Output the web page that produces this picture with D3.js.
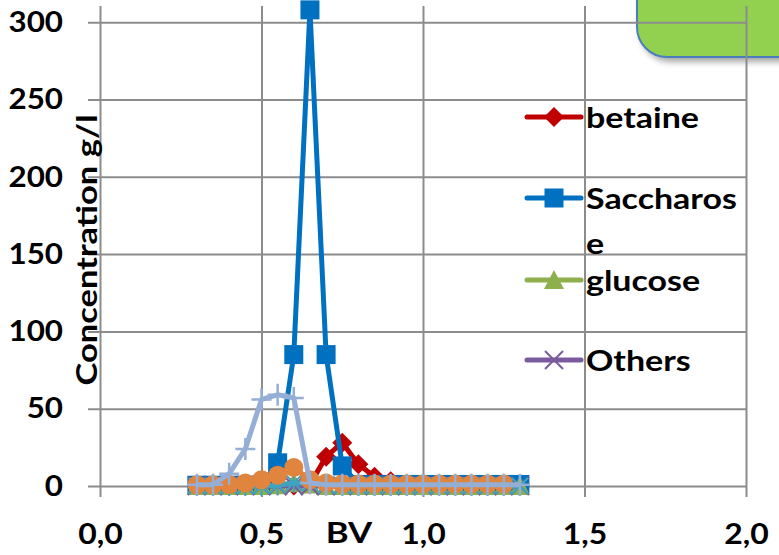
<!DOCTYPE html>
<html>
<head>
<meta charset="utf-8">
<script src="https://cdn.jsdelivr.net/npm/d3@7"></script>
<style>
  body { margin: 0; background: #fff; }
  svg { display: block; }
  text { font-family: "Lato", "Open Sans", sans-serif; font-weight: 700; fill: #000; }
</style>
</head>
<body>
<svg id="chart" width="779" height="555"></svg>
<script>
// bed volumes (x) and concentrations in g/l
var bv = [0.30, 0.35, 0.40, 0.45, 0.50, 0.55, 0.60, 0.65, 0.70, 0.75, 0.80,
          0.85, 0.90, 0.95, 1.00, 1.05, 1.10, 1.15, 1.20, 1.25, 1.30];
var betaine    = [0.3, 0.3, 0.3, 0.3, 0.3, 0.3, 0.3, 1, 19, 28, 14, 6, 3, 1.5, 0.8, 0.8, 0.8, 0.8, 0.8, 0.8, 0.8];
var saccharose = [0.5, 0.5, 0.5, 0.5, 0.5, 15, 85, 308, 85, 13, 1, 1, 1, 1, 1, 1, 1, 1, 1, 1, 1];
var glucose    = [0, 0, 0, 0, 0, 0.5, 2, 1, 0, 0, 0, 0, 0, 0, 0, 0, 0, 0, 0, 0, 0];
var others     = [0, 0, 0, 0, 0, 0, 0, 0, 0, 0, 0, 0, 0, 0, 0, 0, 0, 0, 0, 0, 0];
var fructose   = [0, 0, 0, 0, 0, 0.5, 2, 2, 0.5, 0, 0, 0, 0, 0, 0, 0, 0, 0, 0, 0, 0];
var salts      = [0.8, 0.8, 1, 2, 4, 7, 12, 4, 2, 1.3, 1.3, 1.3, 1.3, 1.3, 1.3, 1.3, 1.3, 1.3, 1.3, 1.3];
var color_body = [0.8, 0.8, 8, 24, 56, 59, 57, 2, 0.8, 0.8, 0.8, 0.8, 0.8, 0.8, 0.8, 0.8, 0.8, 0.8, 0.8, 0.8, 0.8];

var xTicks = [0, 0.5, 1.0, 1.5, 2.0];
var yTicks = [0, 50, 100, 150, 200, 250, 300];
var legendNames = ["betaine", "Saccharose", "glucose", "Others"];

var series = [
  { name: "betaine", values: betaine, color: "#C00000", marker: "diamond" },
  { name: "Saccharose", values: saccharose, color: "#0070C0", marker: "square" },
  { name: "glucose", values: glucose, color: "#8EB04C", marker: "triangle" },
  { name: "Others", values: others, color: "#7A5C9E", marker: "cross" },
  { name: "fructose", values: fructose, color: "#3FA3C0", marker: "star" },
  { name: "salts", values: salts, color: "#E0843E", marker: "circle" },
  { name: "color", values: color_body, color: "#94AED6", marker: "plus" }
];

var svg = d3.select("#chart");
var x = d3.scaleLinear().domain([0, 2]).range([100, 746]);
var y = d3.scaleLinear().domain([0, 310.5]).range([486, 6]);
var comma = d3.formatLocale({ decimal: ",", thousands: ".", grouping: [3], currency: ["", ""] }).format(".1f");

// green box behind the chart, top right
var defs = svg.append("defs");
var f = defs.append("filter").attr("id", "shadow").attr("x", "-20%").attr("y", "-20%").attr("width", "150%").attr("height", "150%");
f.append("feDropShadow").attr("dx", 4).attr("dy", 4).attr("stdDeviation", 3)
  .attr("flood-color", "#000").attr("flood-opacity", 0.35);
svg.append("rect")
  .attr("x", 637).attr("y", -60).attr("width", 220).attr("height", 117)
  .attr("rx", 30).attr("ry", 30)
  .attr("fill", "#92D050").attr("stroke", "#4A7EBB").attr("stroke-width", 2)
  .attr("filter", "url(#shadow)");

// grid + axes
var gy = svg.append("g").attr("transform", "translate(746,0)")
  .call(d3.axisLeft(y).tickValues(yTicks).tickSize(658).tickPadding(25).tickFormat(d3.format("d")));
var gx = svg.append("g").attr("transform", "translate(0,6)")
  .call(d3.axisBottom(x).tickValues(xTicks).tickSize(491).tickPadding(26).tickFormat(comma));
[gx, gy].forEach(function(g) {
  g.select(".domain").remove();
  g.selectAll("line").attr("stroke", "#8C8C8C").attr("stroke-width", 2);
  g.selectAll("text").attr("font-size", 29).attr("font-family", null).attr("fill", "#000");
});
// the original font is a bit wider than Lato, stretch labels a little
gy.selectAll("text").attr("transform", "translate(-683,0) scale(1.08,1) translate(683,0)");
gx.selectAll("text").attr("transform", "scale(1.1,1)");

svg.append("text")
  .attr("transform", "translate(349,543) scale(1.2,1)")
  .attr("text-anchor", "middle").attr("font-size", 29)
  .text("BV");

svg.append("text")
  .attr("transform", "translate(97,250) rotate(-90) scale(1.19,1)")
  .attr("text-anchor", "middle").attr("font-size", 29)
  .text("Concentration g/l");

function drawMarker(g, type, color) {
  if (type == "diamond") {
    g.append("path").attr("d", "M0,-10L10,0L0,10L-10,0Z").attr("fill", color);
  } else if (type == "square") {
    g.append("rect").attr("x", -9.5).attr("y", -9.5).attr("width", 19).attr("height", 19).attr("fill", color);
  } else if (type == "triangle") {
    g.append("path").attr("d", "M0,-10L10,9L-10,9Z").attr("fill", color);
  } else if (type == "cross") {
    g.append("path").attr("d", "M-9,-9L9,9M-9,9L9,-9").attr("stroke", color).attr("stroke-width", 2);
  } else if (type == "star") {
    g.append("path").attr("d", "M-8,-8L8,8M-8,8L8,-8M0,-10L0,10").attr("stroke", color).attr("stroke-width", 2);
  } else if (type == "circle") {
    g.append("circle").attr("r", 9.5).attr("fill", color);
  } else if (type == "plus") {
    g.append("path").attr("d", "M0,-11L0,11M-10,0L10,0").attr("stroke", color).attr("stroke-width", 2.5);
  }
}

var line = d3.line()
  .x(function(d) { return x(d[0]); })
  .y(function(d) { return y(d[1]); });

series.forEach(function(s) {
  var pts = s.values.map(function(v, i) { return [bv[i], v]; });
  var g = svg.append("g").attr("class", "series");
  g.append("path")
    .attr("d", line(pts))
    .attr("fill", "none")
    .attr("stroke", s.color)
    .attr("stroke-width", 5)
    .attr("stroke-linejoin", "round");
  g.selectAll("g.m")
    .data(pts)
    .enter()
    .append("g")
    .attr("class", "m")
    .attr("transform", function(d) { return "translate(" + x(d[0]) + "," + y(d[1]) + ")"; })
    .each(function() { drawMarker(d3.select(this), s.marker, s.color); });
});

// legend (only the first four entries fit)
var legendY = [117, 198, 280, 360];
legendNames.forEach(function(name, i) {
  var s = series[i];
  var lg = svg.append("g").attr("transform", "translate(0," + legendY[i] + ")");
  lg.append("line").attr("x1", 527).attr("x2", 581)
    .attr("stroke", s.color).attr("stroke-width", 5).attr("stroke-linecap", "round");
  drawMarker(lg.append("g").attr("transform", "translate(554,0)"), s.marker, s.color);
  var t = lg.append("text")
    .attr("transform", "translate(586,11) scale(1.17,1)")
    .attr("font-size", 29);
  if (name == "Saccharose") {
    t.append("tspan").attr("x", 0).text("Saccharos");
    t.append("tspan").attr("x", 0).attr("dy", 45).text("e");
  } else {
    t.text(name);
  }
});
</script>
</body>
</html>
